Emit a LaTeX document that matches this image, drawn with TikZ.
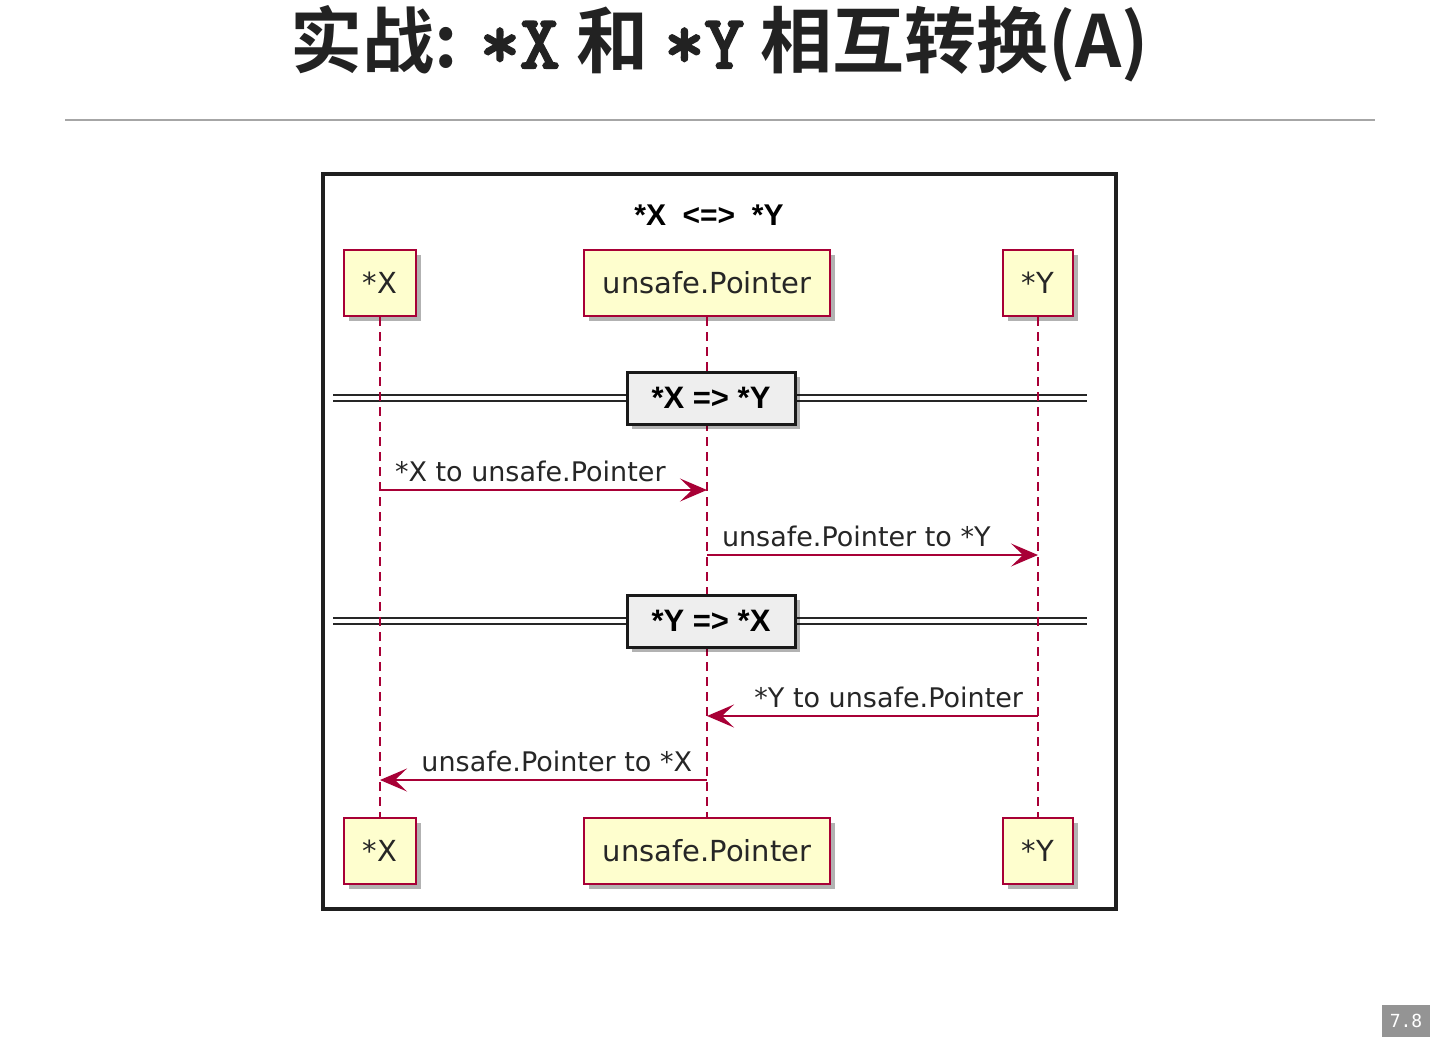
\documentclass[tikz,border=0pt]{standalone}
\usepackage{fontspec}
\setmainfont{DejaVu Sans}
\newfontfamily\cjk{Noto Sans CJK SC}[BoldFont={Noto Sans CJK SC Bold}]
\newfontfamily\codefont{lmmono10-regular.otf}[FakeBold=3]
\newfontfamily\lsans{Liberation Sans}
\newfontfamily\pgmono{DejaVu Sans Mono}
\usetikzlibrary{arrows.meta,shadows,positioning}
\definecolor{umlred}{HTML}{A80036}
\definecolor{umlyellow}{HTML}{FEFECE}
\definecolor{divgray}{HTML}{EEEEEE}
\definecolor{inkgray}{HTML}{222222}
\newcommand{\codept}[1]{{\codefont\fontsize{76}{76}\selectfont #1}}

\begin{document}
\begin{tikzpicture}[x=1pt,y=-1pt,
  part/.style={draw=umlred,line width=2pt,fill=umlyellow,minimum width=66pt,minimum height=66pt,
               inner xsep=19pt,text=black!85,font=\fontsize{29}{32}\selectfont,
               drop shadow={shadow xshift=5pt,shadow yshift=-5pt,opacity=0.3,fill=black}},
  life/.style={umlred,line width=1.5pt,dash pattern=on 9pt off 6pt},
  msg/.style={umlred,line width=2pt,-{Stealth[length=27pt,width=23pt,inset=12pt]}},
  lbl/.style={text=black!85,font=\fontsize{27}{30}\selectfont,inner xsep=14pt,inner ysep=7pt},
  sep/.style={draw=black!85,line width=2pt,double=white,double distance=3.5pt},
  divbox/.style={draw=black!90,line width=3pt,fill=divgray,minimum width=168pt,minimum height=52pt,
                 font=\lsans\bfseries\fontsize{31}{34}\selectfont,
                 drop shadow={shadow xshift=5pt,shadow yshift=-5pt,opacity=0.3,fill=black}}
]
  \useasboundingbox (0,0) rectangle (1440,1051);

  % heading
  \node[anchor=base,text=inkgray,font=\fontsize{72}{76}\selectfont] (head) at (720,68)
    {{\cjk\bfseries 实战: }\codept{*X}{\cjk\bfseries{} 和 }\codept{*Y}{\cjk\bfseries{} 相互转换(A)}};
  \draw[black!35,line width=1.5pt] (65,120) -- (1375,120);

  % frame
  \draw[black!88,line width=3.5pt] (323,174) rectangle (1116,909);
  \node[font=\lsans\bfseries\fontsize{30}{32}\selectfont] (title) at (709,215) {*X~~<=>~~*Y};

  % participants
  \node[part] (xt) at (380,283)   {*X};
  \node[part] (pt) at (707,283)   {unsafe.Pointer};
  \node[part] (yt) at (1038,283)  {*Y};
  \node[part] (xb) at (380,851)   {*X};
  \node[part] (pb) at (707,851)   {unsafe.Pointer};
  \node[part] (yb) at (1038,851)  {*Y};

  % separators
  \draw[sep] (333,398) -- (1087,398);
  \draw[sep] (333,621) -- (1087,621);

  \draw[life] (xt) -- (xb);
  \draw[life] (pt) -- (pb);
  \draw[life] (yt) -- (yb);

  \node[divbox] (d1) at (711,398) {*X => *Y};
  \node[divbox] (d2) at (711,621) {*Y => *X};

  % messages
  \draw[msg] (xt |- 0,490) -- node[lbl,pos=0,anchor=south west] {*X to unsafe.Pointer} (pt |- 0,490);
  \draw[msg] (pt |- 0,555) -- node[lbl,pos=0,anchor=south west] {unsafe.Pointer to *Y} (yt |- 0,555);
  \draw[msg] (yt |- 0,716) -- node[lbl,pos=0,anchor=south east] {*Y to unsafe.Pointer} (pt |- 0,716);
  \draw[msg] (pt |- 0,780) -- node[lbl,pos=0,anchor=south east] {unsafe.Pointer to *X} (xt |- 0,780);

  % page number
  \node[fill=black!42,text=white,minimum width=48pt,minimum height=32pt,inner sep=0pt,
        font=\pgmono\fontsize{18}{20}\selectfont] (page) at (1406,1021) {7.8};
\end{tikzpicture}
\end{document}
